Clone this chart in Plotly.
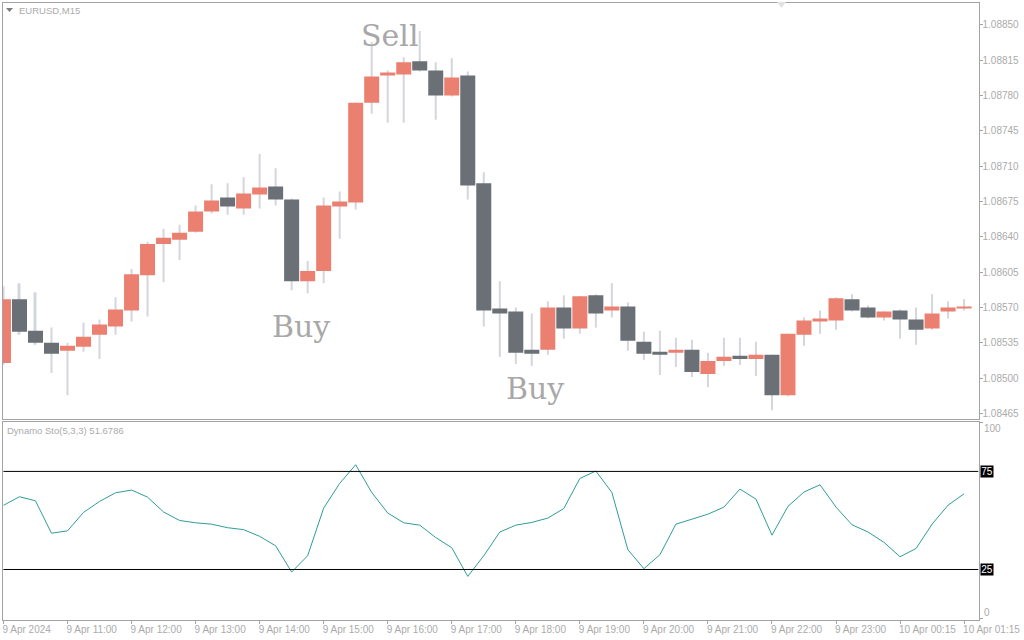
import numpy as np
import plotly.graph_objects as go

# EURUSD M15 bars
bars = list(range(61))
opens = [1.08515,1.08578,1.08547,1.08535,1.08527,1.08531,1.08543,1.08551,1.08567,1.08602,
         1.08633,1.08637,1.08645,1.08665,1.08679,1.08668,1.08682,1.08690,1.08677,1.08596,
         1.08606,1.08670,1.08674,1.08773,1.08800,1.08801,1.08814,1.08805,1.08780,1.08800,
         1.08693,1.08569,1.08566,1.08528,1.08528,1.08570,1.08549,1.08582,1.08567,1.08571,
         1.08536,1.08526,1.08525,1.08528,1.08504,1.08517,1.08522,1.08519,1.08523,1.08483,
         1.08543,1.08556,1.08557,1.08578,1.08570,1.08560,1.08567,1.08558,1.08549,1.08566,
         1.08569]
highs = [1.08591,1.08594,1.08585,1.08550,1.08535,1.08555,1.08558,1.08580,1.08608,1.08635,
         1.08648,1.08652,1.08671,1.08692,1.08693,1.08699,1.08722,1.08708,1.08678,1.08616,
         1.08679,1.08685,1.08773,1.08833,1.08805,1.08818,1.08844,1.08813,1.08817,1.08804,
         1.08704,1.08596,1.08570,1.08564,1.08576,1.08582,1.08581,1.08583,1.08594,1.08575,
         1.08546,1.08547,1.08540,1.08538,1.08525,1.08540,1.08540,1.08536,1.08523,1.08544,
         1.08560,1.08567,1.08580,1.08583,1.08572,1.08566,1.08568,1.08570,1.08583,1.08576,
         1.08578]
lows = [1.08513,1.08543,1.08533,1.08505,1.08483,1.08526,1.08519,1.08543,1.08556,1.08561,
        1.08595,1.08617,1.08644,1.08663,1.08662,1.08662,1.08668,1.08671,1.08587,1.08584,
        1.08594,1.08638,1.08667,1.08762,1.08753,1.08753,1.08804,1.08756,1.08779,1.08677,
        1.08551,1.08521,1.08514,1.08512,1.08523,1.08539,1.08544,1.08550,1.08560,1.08527,
        1.08518,1.08503,1.08511,1.08501,1.08491,1.08512,1.08513,1.08502,1.08468,1.08482,
        1.08532,1.08544,1.08548,1.08566,1.08559,1.08557,1.08539,1.08533,1.08548,1.08559,
        1.08567]
closes = [1.08578,1.08546,1.08535,1.08524,1.08532,1.08541,1.08553,1.08568,1.08603,1.08633,
          1.08639,1.08644,1.08665,1.08676,1.08670,1.08683,1.08689,1.08677,1.08596,1.08606,
          1.08671,1.08675,1.08773,1.08799,1.08803,1.08813,1.08805,1.08780,1.08798,1.08691,
          1.08567,1.08564,1.08525,1.08524,1.08570,1.08549,1.08581,1.08564,1.08571,1.08537,
          1.08524,1.08523,1.08528,1.08506,1.08517,1.08521,1.08519,1.08523,1.08483,1.08544,
          1.08557,1.08559,1.08579,1.08567,1.08560,1.08566,1.08558,1.08548,1.08564,1.08570,
          1.08571]
sto = [57.7,62.1,60.0,43.5,44.7,54.1,59.7,64.1,65.5,61.9,
       54.3,50.0,48.8,48.1,46.3,45.3,41.9,37.1,23.7,32.0,
       56.3,68.9,78.4,64.3,53.8,48.8,47.6,41.3,36.1,21.5,
       32.0,44.1,47.6,49.0,51.2,56.1,71.4,75.2,64.3,35.1,
       25.4,32.5,48.1,50.5,53.2,56.8,66.0,60.9,42.5,57.2,
       64.5,68.2,56.8,47.8,44.1,38.8,31.5,35.7,48.1,57.8,
       63.6]

price_ticks = [1.08850,1.08815,1.08780,1.08745,1.08710,1.08675,1.08640,1.08605,1.08570,1.08535,1.08500,1.08465]
time_ticks = list(range(0, 61, 4))
time_labels = ["9 Apr 2024","9 Apr 11:00","9 Apr 12:00","9 Apr 13:00","9 Apr 14:00","9 Apr 15:00","9 Apr 16:00",
               "9 Apr 17:00","9 Apr 18:00","9 Apr 19:00","9 Apr 20:00","9 Apr 21:00","9 Apr 22:00","9 Apr 23:00",
               "10 Apr 00:15","10 Apr 01:15"]
levels = [75, 25]
sto_ticks = [100, 0]

W, H = 1024, 640
FRAME = "#a3a3a3"
TEXT = "#ababab"
FONT = "Liberation Sans"
x_range = [-0.06, 60.9]

lows_arr = np.array(lows)
highs_arr = np.array(highs)

fig = go.Figure()
fig.add_trace(go.Bar(x=bars, y=highs_arr - lows_arr, base=lows_arr, width=0.125,
                     marker=dict(color="#d3d6df", line_width=0), showlegend=False))
fig.add_trace(go.Candlestick(x=bars, open=opens, high=highs, low=lows, close=closes,
                             increasing=dict(fillcolor="#ec8070", line=dict(color="#ec8070", width=0)),
                             decreasing=dict(fillcolor="#6b6f76", line=dict(color="#6b6f76", width=0)),
                             showlegend=False))
fig.add_trace(go.Scatter(x=bars, y=sto, mode="lines", line=dict(color="#2f9c98", width=1),
                         xaxis="x2", yaxis="y2", showlegend=False))

for lv in levels:
    fig.add_trace(go.Scatter(x=[bars[0], x_range[1]], y=[lv, lv], mode="lines",
                             line=dict(color="#000000", width=1), xaxis="x2", yaxis="y2",
                             showlegend=False))

axis_common = dict(showgrid=False, zeroline=False, showline=True, linecolor=FRAME, linewidth=1,
                   mirror=True, tickcolor=FRAME, ticklen=3, tickwidth=1, automargin=False,
                   tickfont=dict(family=FONT, size=10, color=TEXT))

fig.update_layout(
    width=W, height=H, margin=dict(l=0, r=0, t=0, b=0), autosize=False,
    paper_bgcolor="#ffffff", plot_bgcolor="#ffffff", showlegend=False,
    barmode="overlay", boxmode="group", boxgap=0.0625, boxgroupgap=0,
    xaxis=dict(domain=[2.5 / W, 978.5 / W], range=x_range, anchor="y", showticklabels=False, ticks="",
               rangeslider=dict(visible=False), **axis_common),
    yaxis=dict(domain=[1 - 419 / H, 1 - 2.5 / H], range=[1.084594, 1.088723], anchor="x", side="right",
               tickvals=price_ticks, tickformat=".5f", ticks="outside", ticklabelstandoff=-2, **axis_common),
    xaxis2=dict(domain=[2.5 / W, 978.5 / W], range=x_range, anchor="y2", tickvals=time_ticks,
                ticktext=time_labels, ticks="outside", tickangle=0, ticklabelposition="outside right",
                ticklabelshift=-2, **axis_common),
    yaxis2=dict(domain=[1 - 619.5 / H, 1 - 422 / H], range=[-0.5, 100.2], anchor="x2", side="right",
                tickvals=sto_ticks, showticklabels=False, ticks="outside", **axis_common),
)

# level tags on the right of the indicator panel
for lv in levels:
    fig.add_annotation(text=str(lv), x=980 / W, xref="paper", xanchor="left", y=lv, yref="y2",
                       showarrow=False, bgcolor="#000000", borderpad=0, width=12, height=11,
                       font=dict(family=FONT, size=10, color="#ffffff"))
fig.add_annotation(text="100", x=982 / W, xref="paper", xanchor="left", y=sto_ticks[0], yref="y2", yshift=-6,
                   showarrow=False, font=dict(family=FONT, size=10, color=TEXT))
fig.add_annotation(text="0", x=982 / W, xref="paper", xanchor="left", y=sto_ticks[1], yref="y2", yshift=6,
                   showarrow=False, font=dict(family=FONT, size=10, color=TEXT))

# panel captions
fig.add_annotation(text="EURUSD,M15", x=17 / W, xref="paper", xanchor="left", y=1 - 10 / H, yref="paper",
                   yanchor="middle", showarrow=False, font=dict(family=FONT, size=9.5, color=TEXT))
fig.add_annotation(text="Dynamo Sto(5,3,3) 51.6786", x=5 / W, xref="paper", xanchor="left", y=1 - 430 / H, yref="paper",
                   yanchor="middle", showarrow=False, font=dict(family=FONT, size=9.5, color=TEXT))

# big signal words
fig.add_annotation(text="Sell", x=24.15, xref="x", y=1.08840, yref="y", showarrow=False,
                   font=dict(family="DejaVu Serif", size=30, color="#a8a8a8"))
fig.add_annotation(text="Buy", x=18.6, xref="x", y=1.08551, yref="y", showarrow=False,
                   font=dict(family="DejaVu Serif", size=30, color="#a8a8a8"))
fig.add_annotation(text="Buy", x=33.2, xref="x", y=1.08490, yref="y", showarrow=False,
                   font=dict(family="DejaVu Serif", size=30, color="#a8a8a8"))

# small terminal markers: caption arrow and chart shift arrow
fig.add_shape(type="path", path="M 6 -8 L 13 -8 L 9.5 -12 Z", xref="paper", yref="paper", line_width=0,
              fillcolor="#7d7d7d", layer="above", xsizemode="pixel", ysizemode="pixel", xanchor=0, yanchor=1)
fig.add_shape(type="path", path="M 777 -2 L 786 -2 L 781.5 -8 Z", xref="paper", yref="paper", line_width=0,
              fillcolor="#e2e2e2", layer="above", xsizemode="pixel", ysizemode="pixel", xanchor=0, yanchor=1)

fig.write_html("out.html", post_script="document.body.style.margin='0'",
               config=dict(displayModeBar=False))
